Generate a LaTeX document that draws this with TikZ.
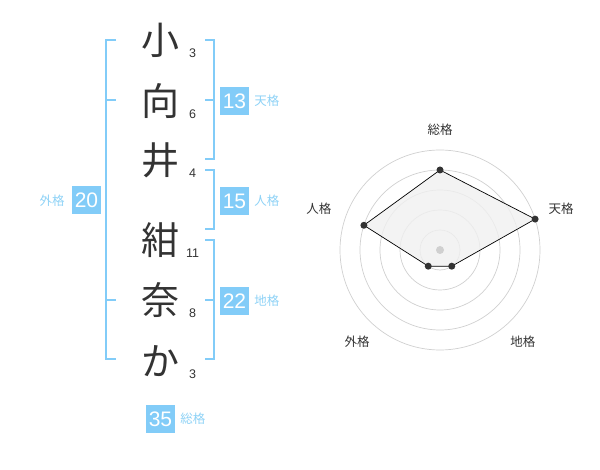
\documentclass[tikz,border=0pt]{standalone}
\usepackage{fontspec}
\setmainfont{Liberation Sans}
\newfontfamily\jpfont{Noto Sans CJK JP}
\usetikzlibrary{calc}
\usetikzlibrary{positioning}
\definecolor{kakublue}{HTML}{82CCF8}
\definecolor{kakutext}{HTML}{8ED2F6}
\definecolor{inkgray}{HTML}{333333}
\definecolor{ringgray}{HTML}{D0D0D0}

\begin{document}
\begin{tikzpicture}[x=1pt,y=-1pt,
    bracketline/.style={kakublue, line width=2pt},
    kakubox/.style={fill=kakublue, text=white, minimum width=29pt, minimum height=28pt, inner sep=0pt, font=\fontsize{21}{21}\selectfont},
    kakulabel/.style={text=kakutext, inner sep=0pt, font=\jpfont\fontsize{12.5}{13}\selectfont},
    moji/.style={text=inkgray, inner sep=0pt, font=\jpfont\fontsize{38}{38}\selectfont},
    kakusu/.style={text=inkgray, inner sep=0pt, font=\fontsize{12.5}{12.5}\selectfont},
    ring/.style={ringgray, line width=0.7pt},
    axislabel/.style={text=inkgray, inner sep=0pt, font=\jpfont\fontsize{12.5}{13}\selectfont},
    dot/.style={circle, fill=inkgray, inner sep=0pt, minimum size=7pt}]
\useasboundingbox (0,0) rectangle (600,470);

% name column
\coordinate (k1) at (160,40);
\coordinate (k2) at (160,101);
\coordinate (k3) at (160,160);
\coordinate (k4) at (160,240);
\coordinate (k5) at (160,300);
\coordinate (k6) at (160,361);
% radar centre
\coordinate (o) at (440,250);

\newcommand{\moji}[3]{
    \node[moji] (m#1) at (k#1) {#2};
    \node[kakusu] (s#1) at ($(k#1)+(32.5,13)$) {#3};
}

\newcommand{\rbracket}[2]{
    \draw[bracketline] (205,#1) -| (214,#2) -- (205,#2);
}

\newcommand{\rtick}[1]{
    \draw[bracketline] (205,#1) -- (214,#1);
}

\newcommand{\drawgai}{
    \draw[bracketline] (116,40) -| (106,359) -- (116,359);
    \draw[bracketline] (106,100) -- (116,100);
    \draw[bracketline] (106,300) -- (116,300);
}

\newcommand{\radarpt}[3]{
    \coordinate (p#1) at ($(o)+(#2:#3)$);
}

    \moji{1}{小}{3}
    \moji{2}{向}{6}
    \moji{3}{井}{4}
    \moji{4}{紺}{11}
    \moji{5}{奈}{8}
    \moji{6}{か}{3}

    \drawgai
    \rbracket{40}{159}\rtick{100}
    \rbracket{170}{229}
    \rbracket{240}{359}\rtick{300}

    \node[kakubox] (ten) at (234.5,101) {13};
    \node[kakulabel, right=5pt of ten] (tenl) {天格};
    \node[kakubox] (jin) at (234.5,201) {15};
    \node[kakulabel, right=5pt of jin] (jinl) {人格};
    \node[kakubox] (chi) at (234.5,301) {22};
    \node[kakulabel, right=5pt of chi] (chil) {地格};
    \node[kakubox] (gai) at (86.5,200.5) {20};
    \node[kakulabel, left=7pt of gai] (gail) {外格};
    \node[kakubox] (sou) at (160.5,419) {35};
    \node[kakulabel, right=5pt of sou] (soul) {総格};

    % radar
    \foreach \r in {20,40,...,100}
        \draw[ring] (o) circle[radius=\r pt];
    \radarpt{1}{-90}{80}
    \radarpt{2}{-18}{100}
    \radarpt{3}{54}{20}
    \radarpt{4}{126}{20}
    \radarpt{5}{198}{80}
    \filldraw[fill=black!6, fill opacity=0.8, draw=black, line width=0.7pt] (p1)--(p2)--(p3)--(p4)--(p5)--cycle;
    \fill[ringgray] (o) circle[radius=4pt];
    \foreach \i in {1,...,5}
        \node[dot] (d\i) at (p\i) {};

    \node[axislabel] (a1) at ($(o)+(-90:120)$) {総格};
    \node[axislabel] (a2) at ($(o)+(-19:128)$) {天格};
    \node[axislabel] (a3) at ($(o)+(48:124)$) {地格};
    \node[axislabel] (a4) at ($(o)+(132:124)$) {外格};
    \node[axislabel] (a5) at ($(o)+(199:128)$) {人格};
\end{tikzpicture}
\end{document}
